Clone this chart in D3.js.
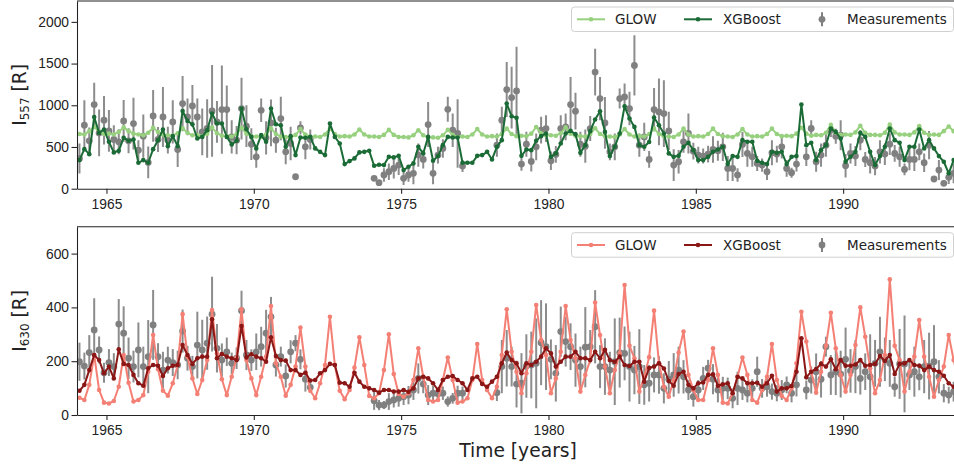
<!DOCTYPE html>
<html lang="en">
<head>
<meta charset="UTF-8">
<title>GLOW vs XGBoost vs measurements</title>
<script src="https://d3js.org/d3.v7.min.js"></script>
<style>
  body { margin: 0; background: #fff; }
  svg { font-family: 'DejaVu Sans', sans-serif; display: block; }
  .tick text { font-size: 13.8px; fill: #222; }
  .tick line, .domain { stroke: #222; stroke-width: 1.07; }
</style>
</head>
<body>
<svg width="954" height="467"></svg>
<script>
// sampling grid: every second month, 1964-1993
const years = d3.range(1964, 1994);
const sampleMonths = [1, 3, 5, 7, 9, 11];
const xTicks = [1965, 1970, 1975, 1980, 1985, 1990];

// ---- 557.7 nm (green line) ----
const glow557 = [
  655, 650, 690, 740, 685, 655,  660, 650, 680, 735, 690, 660,
  650, 640, 670, 730, 680, 650,  640, 635, 665, 725, 670, 640,
  640, 630, 660, 735, 665, 635,  630, 625, 655, 730, 660, 630,
  625, 620, 650, 725, 655, 625,  620, 615, 645, 715, 650, 620,
  625, 620, 650, 720, 655, 625,  630, 625, 650, 710, 650, 625,
  625, 620, 645, 705, 645, 620,  620, 615, 640, 700, 640, 615,
  615, 610, 640, 705, 645, 620,  625, 620, 650, 715, 650, 625,
  630, 625, 655, 720, 655, 630,  635, 630, 660, 740, 665, 640,
  640, 635, 665, 735, 660, 635,  630, 625, 655, 725, 655, 630,
  625, 620, 650, 715, 650, 625,  630, 625, 655, 720, 655, 630,
  625, 620, 650, 720, 650, 625,  630, 625, 655, 720, 655, 630,
  625, 620, 650, 715, 650, 625,  630, 625, 655, 720, 655, 630,
  635, 630, 660, 730, 660, 635,  645, 640, 670, 765, 675, 645,
  650, 645, 675, 755, 670, 645,  645, 640, 670, 770, 675, 650,
  650, 645, 675, 750, 670, 645,  650, 645, 690, 745, 690, 655
];
const xgb557 = [
  343, 474, 414, 860, 669, 710,  562, 435, 454, 610, 574, 590,
  311, 343, 311, 474, 582, 710,  510, 630, 510, 932, 813, 773,
  602, 621, 701, 901, 781, 781,  621, 531, 574, 961, 713, 621,
  483, 642, 562, 961, 773, 761,  502, 630, 403, 614, 610, 621,
  483, 442, 403, 781, 621, 542,  295, 331, 363, 435, 442, 454,
  275, 287, 283, 382, 375, 394,  223, 263, 303, 502, 423, 621,
  335, 391, 522, 621, 614, 614,  311, 311, 311, 394, 403, 442,
  351, 502, 582, 1020, 869, 849, 394, 470, 462, 574, 630, 662,
  382, 423, 542, 662, 693, 654,  430, 522, 690, 829, 929, 681,
  391, 502, 662, 988, 841, 741,  522, 502, 560, 853, 761, 662,
  423, 382, 394, 502, 550, 462,  343, 343, 382, 442, 470, 502,
  295, 391, 382, 582, 562, 562,  335, 311, 295, 442, 430, 442,
  295, 382, 391, 1009, 522, 550, 343, 462, 522, 722, 681, 602,
  323, 382, 442, 669, 621, 442,  283, 391, 502, 722, 582, 550,
  343, 502, 502, 710, 483, 582,  483, 391, 323, 184, 343, 350
];
const meas557 = [
  363, 761, 574, 1009, 669, 821,  693, 590, 562, 813, 574, 781,
  462, 630, 315, 872, 590, 860,   582, 801, 470, 1020, 860, 992,
  860, 681, 722, 932, 801, 948,   948, 621, 582, 961, 749, 534,
  382, 940, 610, 789, 582, 841,   442, 542, 143, 729, 502, 590,
  null, null, null, null, null, null,  null, null, null, null, null, null,
  124, 72, 164, 203, 243, 283,    124, 164, 184, 403, 351, 769,
  184, 403, 482, 952, 701, 662,   271, null, null, null, null, null,
  null, 522, 821, 1188, 1092, 1171, 295, 534, 327, 502, 701, 721,
  335, 411, 721, 741, 1009, 929,  534, 510, 721, 1398, 1080, 789,
  442, 502, 1080, 1100, 961, 1478, 522, 621, 351, 948, 920, 901,
  693, 283, 323, 562, 662, 450,   403, 391, 415, 470, 454, 502,
  243, 243, 164, 531, 423, 382,   303, 283, 203, 430, 415, 502,
  243, 191, 295, null, 382, 722,  323, 403, 522, 701, 630, 642,
  275, 423, 391, 582, 351, 311,   271, 442, 415, 534, 423, 382,
  231, 351, 351, 442, 311, 522,   116, 223, 64, 136, 184, null
];
const err557 = [
  180, 300, 160, 260, 280, 290,  250, 170, 150, 250, 150, 310,
  120, 260, 190, 310, 150, 360,  160, 260, 210, 330, 220, 250,
  220, 280, 350, 550, 250, 530,  290, 200, 170, 370, 250, 190,
  130, 140, 200, 280, 150, 260,  150, 200, 0, 80, 150, 120,
  0, 0, 0, 0, 0, 0,  0, 0, 0, 0, 0, 0,
  0, 0, 80, 100, 120, 120,       80, 80, 130, 140, 110, 270,
  130, 100, 110, 150, 200, 410,  70, 0, 0, 0, 0, 0,
  0, 140, 160, 330, 370, 530,    80, 150, 120, 160, 160, 160,
  110, 100, 160, 160, 330, 220,  150, 200, 150, 280, 260, 310,
  100, 160, 120, 160, 200, 360,  140, 170, 100, 260, 400, 400,
  230, 190, 140, 130, 240, 100,  100, 90, 100, 160, 120, 170,
  150, 150, 80, 150, 160, 120,   90, 80, 100, 150, 100, 140,
  100, 60, 90, 0, 110, 100,      120, 140, 140, 80, 90, 180,
  140, 120, 120, 120, 90, 130,   110, 140, 130, 130, 100, 120,
  70, 130, 140, 100, 110, 170,   0, 120, 0, 80, 120, 0
];

// ---- 630.0 nm (red line) ----
const glow630 = [
  64, 56, 112, 223, 93, 46,     43, 52, 105, 223, 120, 50,
  56, 74, 161, 297, 170, 90,    72, 118, 186, 375, 217, 136,
  78, 130, 204, 390, 229, 133,  74, 142, 214, 393, 204, 136,
  74, 142, 217, 405, 192, 142,  72, 112, 180, 325, 180, 90,
  62, 118, 186, 365, 186, 90,   59, 93, 176, 289, 186, 71,
  62, 81, 167, 300, 152, 78,    68, 81, 130, 248, 142, 56,
  50, 56, 130, 214, 130, 46,    50, 62, 130, 264, 130, 93,
  62, 105, 223, 393, 235, 161,  81, 155, 235, 409, 279, 223,
  81, 136, 235, 405, 279, 211,  87, 149, 204, 418, 297, 180,
  81, 167, 229, 483, 257, 211,  87, 142, 215, 388, 192, 105,
  68, 130, 232, 310, 149, 93,   56, 56, 130, 248, 149, 46,
  43, 81, 142, 214, 149, 56,    46, 93, 142, 264, 130, 71,
  56, 99, 192, 384, 273, 161,   83, 161, 257, 380, 248, 149,
  87, 149, 260, 400, 291, 174,  81, 130, 223, 504, 257, 204,
  87, 161, 217, 353, 217, 142,  68, 130, 180, 297, 204, 130
];
const xgb630 = [
  90, 112, 167, 223, 204, 155,   180, 136, 244, 190, 186, 149,
  118, 109, 174, 186, 183, 145,  174, 183, 186, 260, 223, 190,
  211, 217, 217, 356, 211, 227,  217, 211, 204, 331, 214, 226,
  217, 211, 198, 289, 219, 204,  202, 167, 167, 149, 157, 128,
  130, 155, 167, 190, 186, 120,  118, 105, 157, 124, 105, 99,
  93, 83, 93, 93, 87, 87,        93, 86, 99, 136, 142, 136,
  118, 93, 130, 142, 145, 130,   118, 93, 136, 142, 115, 105,
  124, 142, 192, 232, 204, 192,  155, 192, 186, 198, 217, 248,
  229, 180, 198, 217, 217, 235,  211, 211, 204, 235, 211, 242,
  204, 198, 217, 186, 182, 198,  198, 124, 175, 180, 192, 173,
  126, 109, 152, 161, 112, 99,   118, 121, 149, 151, 109, 114,
  118, 81, 142, 136, 118, 118,   120, 105, 118, 146, 87, 99,
  99, 108, 161, 285, 140, 161,   171, 190, 180, 207, 170, 204,
  183, 183, 188, 204, 183, 186,  190, 219, 201, 223, 152, 190,
  192, 204, 186, 183, 167, 180,  167, 161, 146, 118, 105, 105
];
const meas630 = [
  198, 182, 232, 316, 242, 157,  195, 180, 338, 304, 211, 180,
  242, 180, 217, 335, 217, 167,  204, 195, 186, 312, 211, 180,
  260, 242, 267, 375, 248, 204,  235, 192, 211, 388, 223, 204,
  235, 254, 304, 365, 186, 217,  145, 235, 267, 207, 133, 103,
  null, null, null, null, null, null,  null, null, null, null, null, null,
  53, 37, 37, 50, 56, 62,        68, 74, 93, 136, 115, 74,
  81, 78, 81, 50, 62, 81,        81, null, null, null, null, null,
  null, 83, 180, 211, 180, 115,  118, 182, 186, 192, 269, 254,
  207, 155, 310, 273, 254, 204,  180, 252, 254, 328, 180, 180,
  167, 198, 232, 229, 180, 167,  180, 112, 118, 149, 149, 99,
  133, 149, 167, 142, 93, 68,    93, 136, 174, 133, 93, 99,
  99, 62, 99, 93, 81, 99,        161, 99, 105, 87, 81, 93,
  112, 81, 112, null, 93, 130,   161, 133, 254, 149, 161, 152,
  207, 164, 180, 136, 161, 142,  192, 235, 207, 192, 105, 190,
  190, 149, 161, 142, 180, 182,  198, 142, 81, 74, 87, null
];
const err630 = [
  71, 50, 65, 118, 50, 37,       50, 50, 93, 100, 77, 59,
  102, 74, 136, 130, 50, 68,     50, 50, 53, 80, 46, 40,
  124, 112, 99, 139, 90, 62,     53, 40, 40, 74, 56, 40,
  68, 74, 87, 74, 43, 37,        43, 43, 30, 37, 46, 20,
  0, 0, 0, 0, 0, 0,  0, 0, 0, 0, 0, 0,
  34, 19, 15, 31, 28, 31,        31, 34, 37, 56, 34, 37,
  28, 25, 25, 19, 20, 28,        25, 0, 0, 0, 0, 0,
  0, 31, 99, 105, 74, 87,        112, 118, 124, 167, 158, 161,
  74, 105, 93, 93, 87, 99,       74, 149, 62, 136, 80, 105,
  68, 161, 130, 100, 130, 90,    139, 74, 68, 65, 70, 56,
  68, 81, 87, 62, 37, 37,        37, 43, 31, 56, 46, 43,
  40, 37, 62, 37, 34, 34,        56, 35, 37, 30, 30, 37,
  31, 34, 43, 0, 35, 50,         68, 68, 37, 74, 87, 87,
  118, 81, 99, 60, 68, 158,      87, 130, 81, 87, 37, 130,
  180, 56, 93, 50, 99, 124,      136, 62, 34, 31, 37, 0
];

const times = years.flatMap(yr => sampleMonths.map(m => yr + m / 12));

const svg = d3.select("svg");
const x = d3.scaleLinear().domain([1964, 1994]).range([77, 961]);

const panels = [
  { name: "p557", top: 1, bottom: 188.7, yDomain: [0, 2250], yTicks: [0, 500, 1000, 1500, 2000],
    sub: "557", glow: glow557, xgb: xgb557, meas: meas557, err: err557,
    glowColor: "#97d17f", xgbColor: "#1b6b36" },
  { name: "p630", top: 226.7, bottom: 415, yDomain: [0, 700], yTicks: [0, 200, 400, 600],
    sub: "630", glow: glow630, xgb: xgb630, meas: meas630, err: err630,
    glowColor: "#f47f74", xgbColor: "#8b1616" }
];

panels.forEach(drawPanel);

function drawPanel(p) {
  const y = d3.scaleLinear().domain(p.yDomain).range([p.bottom, p.top]);
  const g = svg.append("g");

  svg.append("clipPath").attr("id", "clip-" + p.name)
    .append("rect")
    .attr("x", x.range()[0]).attr("y", p.top)
    .attr("width", x.range()[1] - x.range()[0]).attr("height", p.bottom - p.top);

  const plot = g.append("g").attr("clip-path", `url(#clip-${p.name})`);

  // measurements with error bars
  const meas = times.map((t, i) => ({ t: t, v: p.meas[i], e: p.err[i] })).filter(d => d.v != null);
  plot.selectAll(".err").data(meas).join("line")
    .attr("class", "err")
    .attr("x1", d => x(d.t)).attr("x2", d => x(d.t))
    .attr("y1", d => y(d.v - d.e)).attr("y2", d => y(d.v + d.e))
    .attr("stroke", "#808080").attr("stroke-opacity", 0.9).attr("stroke-width", 2);
  plot.selectAll(".meas").data(meas).join("circle")
    .attr("class", "meas")
    .attr("cx", d => x(d.t)).attr("cy", d => y(d.v)).attr("r", 3.4)
    .attr("fill", "#808080");

  const line = d3.line().x((d, i) => x(times[i])).y(d => y(d));

  [[p.glow, p.glowColor], [p.xgb, p.xgbColor]].forEach(([vals, col]) => {
    plot.append("path").datum(vals)
      .attr("d", line).attr("fill", "none")
      .attr("stroke", col).attr("stroke-width", 2).attr("stroke-linejoin", "round");
    plot.append("g").selectAll("circle").data(vals).join("circle")
      .attr("cx", (d, i) => x(times[i])).attr("cy", d => y(d)).attr("r", 2.3)
      .attr("fill", col);
  });

  // axes
  g.append("g").attr("transform", `translate(0,${p.bottom})`)
    .call(d3.axisBottom(x).tickValues(xTicks).tickFormat(d3.format("d"))
      .tickSize(5).tickSizeOuter(0).tickPadding(5.5));
  g.append("g").attr("transform", `translate(${x.range()[0]},0)`)
    .call(d3.axisLeft(y).tickValues(p.yTicks).tickFormat(d3.format("d"))
      .tickSize(5.5).tickSizeOuter(0).tickPadding(2.5));
  g.append("line")
    .attr("x1", x.range()[0]).attr("x2", x.range()[1])
    .attr("y1", p.top).attr("y2", p.top)
    .attr("stroke", "#222").attr("stroke-width", 1.07);

  // y label
  const lab = svg.append("text")
    .attr("transform", `translate(25.5,${(p.top + p.bottom) / 2}) rotate(-90)`)
    .attr("text-anchor", "middle").attr("font-size", 18.7).attr("fill", "#222");
  lab.append("tspan").text("I");
  lab.append("tspan").attr("font-size", 12).attr("dy", 3.5).text(p.sub);
  lab.append("tspan").attr("dy", -3.5).text(" [R]");

  // legend
  const ly = p.top + 18.3;
  const leg = svg.append("g");
  leg.append("rect")
    .attr("x", 571.5).attr("y", p.top + 6).attr("width", 382).attr("height", 24.5)
    .attr("rx", 3).attr("fill", "#fff").attr("fill-opacity", 0.8)
    .attr("stroke", "#d0d0d0").attr("stroke-width", 1);
  const items = [
    { label: "GLOW", color: p.glowColor, x0: 577, tx: 615 },
    { label: "XGBoost", color: p.xgbColor, x0: 684, tx: 723 }
  ];
  items.forEach(it => {
    leg.append("line").attr("x1", it.x0).attr("x2", it.x0 + 28)
      .attr("y1", ly).attr("y2", ly).attr("stroke", it.color).attr("stroke-width", 2);
    leg.append("circle").attr("cx", it.x0 + 14).attr("cy", ly).attr("r", 2.3).attr("fill", it.color);
    leg.append("text").attr("x", it.tx).attr("y", ly).attr("dy", "0.35em")
      .attr("font-size", 13.5).attr("fill", "#222").text(it.label);
  });
  leg.append("line").attr("x1", 822).attr("x2", 822).attr("y1", ly - 7).attr("y2", ly + 7)
    .attr("stroke", "#808080").attr("stroke-width", 2);
  leg.append("circle").attr("cx", 822).attr("cy", ly).attr("r", 3.4).attr("fill", "#808080");
  leg.append("text").attr("x", 847).attr("y", ly).attr("dy", "0.35em")
    .attr("font-size", 13.5).attr("fill", "#222").text("Measurements");
}

svg.append("text")
  .attr("x", 518).attr("y", 457).attr("text-anchor", "middle")
  .attr("font-size", 18.7).attr("fill", "#222").text("Time [years]");
</script>
</body>
</html>
